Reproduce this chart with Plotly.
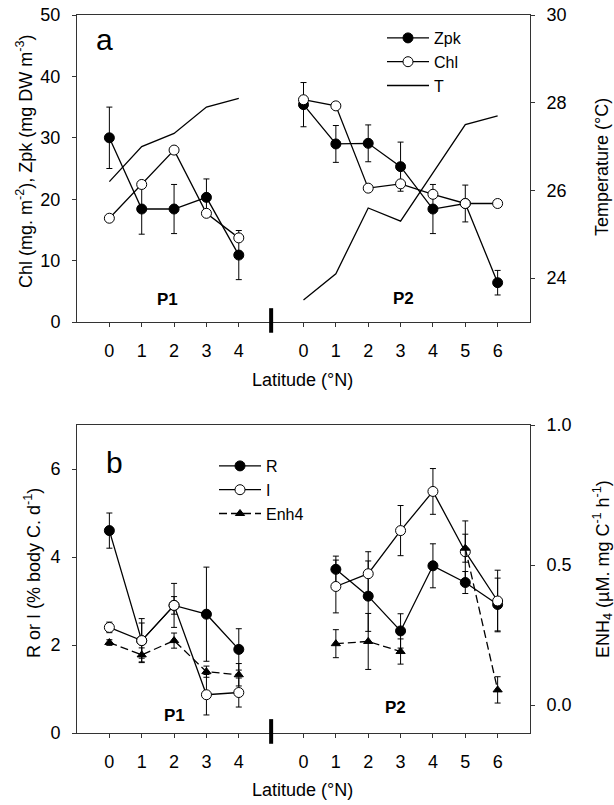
import plotly.graph_objects as go

# ---------------- data ----------------
lat_p1 = [0, 1, 2, 3, 4]
lat_p2 = [0, 1, 2, 3, 4, 5, 6]
tick_labels = ["0", "1", "2", "3", "4", "0", "1", "2", "3", "4", "5", "6"]

# panel a
zpk_p1 = [30.0, 18.4, 18.4, 20.3, 10.9]
zpk_p1_err = [5.0, 4.1, 4.0, 3.0, 4.0]
chl_p1 = [16.9, 22.4, 28.0, 17.7, 13.7]
temp_p1 = [26.2, 27.0, 27.3, 27.9, 28.1]

zpk_p2 = [35.4, 29.0, 29.1, 25.3, 18.4, 19.3, 6.4]
zpk_p2_err = [3.6, 3.0, 3.0, 4.0, 4.0, 3.0, 2.0]
chl_p2 = [36.2, 35.2, 21.8, 22.5, 20.8, 19.3, 19.3]
temp_p2 = [23.5, 24.1, 25.6, 25.3, 26.4, 27.5, 27.7]

# panel b
r_p1 = [4.6, 2.1, 2.9, 2.7, 1.9]
r_p1_err = [0.4, 0.5, 0.5, 1.07, 0.47]
i_p1 = [2.4, 2.1, 2.9, 0.87, 0.92]
i_p1_err = [0.12, 0.4, 0.2, 0.46, 0.33]
enh_p1 = [0.223, 0.179, 0.230, 0.119, 0.108]
enh_p1_err = [0.01, 0.025, 0.027, 0.02, 0.04]

r_p2 = [None, 3.72, 3.11, 2.32, 3.80, 3.42, 2.92]
r_p2_err = [None, 0.3, 0.8, 0.39, 0.5, 0.25, 0.6]
i_p2 = [None, 3.33, 3.62, 4.60, 5.49, 4.12, 3.0]
i_p2_err = [None, 0.6, 0.5, 0.57, 0.52, 0.7, 0.7]
enh_p2 = [None, 0.219, 0.227, 0.191, None, 0.56, 0.054]
enh_p2_err = [None, 0.05, 0.1, 0.045, None, 0.05, 0.047]

# ---------------- helpers ----------------
P2_OFFSET = 6
GAP = 5
xpos = lat_p1 + [GAP] + [v + P2_OFFSET for v in lat_p2]
tickvals = lat_p1 + [v + P2_OFFSET for v in lat_p2]


def join(a, b):
    return list(a) + [None] + list(b)


FONT = "Liberation Sans, Arial, sans-serif"
BLACK = "black"

fig = go.Figure()


def err(arr):
    return dict(type="data", array=arr, color=BLACK, thickness=1, width=3, visible=True)


# ---- panel a ----
fig.add_trace(go.Scatter(
    x=xpos, y=join(zpk_p1, zpk_p2), name="Zpk", mode="lines+markers",
    line=dict(color=BLACK, width=1.3),
    marker=dict(symbol="circle", size=10, color=BLACK, line=dict(color=BLACK, width=1)),
    error_y=err(join(zpk_p1_err, zpk_p2_err)), xaxis="x", yaxis="y", legend="legend"))
fig.add_trace(go.Scatter(
    x=xpos, y=join(chl_p1, chl_p2), name="Chl", mode="lines+markers",
    line=dict(color=BLACK, width=1.3),
    marker=dict(symbol="circle", size=10, color="white", line=dict(color=BLACK, width=1)),
    xaxis="x", yaxis="y", legend="legend"))
fig.add_trace(go.Scatter(
    x=xpos, y=join(temp_p1, temp_p2), name="T", mode="lines",
    line=dict(color=BLACK, width=1.3), xaxis="x", yaxis="y2", legend="legend"))

# ---- panel b ----
fig.add_trace(go.Scatter(
    x=xpos, y=join(r_p1, r_p2), name="R", mode="lines+markers",
    line=dict(color=BLACK, width=1.3),
    marker=dict(symbol="circle", size=10, color=BLACK, line=dict(color=BLACK, width=1)),
    error_y=err(join(r_p1_err, r_p2_err)), xaxis="x2", yaxis="y3", legend="legend2"))
fig.add_trace(go.Scatter(
    x=xpos, y=join(i_p1, i_p2), name="I", mode="lines+markers",
    line=dict(color=BLACK, width=1.3),
    marker=dict(symbol="circle", size=10, color="white", line=dict(color=BLACK, width=1)),
    error_y=err(join(i_p1_err, i_p2_err)), xaxis="x2", yaxis="y3", legend="legend2"))
fig.add_trace(go.Scatter(
    x=xpos, y=join(enh_p1, enh_p2), name="Enh4", mode="lines+markers",
    line=dict(color=BLACK, width=1.3, dash="8px,4px"),
    marker=dict(symbol="triangle-up", size=8, color=BLACK, line=dict(color=BLACK, width=1)),
    error_y=err(join(enh_p1_err, enh_p2_err)), xaxis="x2", yaxis="y4", legend="legend2"))

# ---------------- layout ----------------
W, H = 614, 805
xdom = [77 / W, 530 / W]
ydom_a = [1 - 322 / H, 1 - 15 / H]
ydom_b = [1 - 733 / H, 1 - 425 / H]

axis_common = dict(showline=True, linecolor="#333", linewidth=1, ticks="outside",
                   ticklen=4, tickcolor="#333", showgrid=False, zeroline=False,
                   automargin=False,
                   tickfont=dict(family=FONT, size=18, color=BLACK))

xcommon = dict(axis_common, range=[-1, 13], tickmode="array", tickvals=tickvals,
               ticktext=tick_labels, mirror=True, domain=xdom, ticklabelstandoff=8)

fig.update_layout(
    width=W, height=H, margin=dict(l=0, r=0, t=0, b=0, pad=0, autoexpand=False),
    paper_bgcolor="white", plot_bgcolor="white",
    font=dict(family=FONT, size=18, color=BLACK),
    xaxis=dict(xcommon, anchor="y"),
    yaxis=dict(axis_common, domain=ydom_a, range=[0, 50], tickvals=[0, 10, 20, 30, 40, 50],
               anchor="x", mirror=False, ticklabelstandoff=8),
    yaxis2=dict(axis_common, domain=ydom_a, range=[23, 30], tickvals=[24, 26, 28, 30],
                overlaying="y", side="right", anchor="x", ticklabelstandoff=8),
    xaxis2=dict(xcommon, anchor="y3"),
    yaxis3=dict(axis_common, domain=ydom_b, range=[0, 7], tickvals=[0, 2, 4, 6],
                anchor="x2", mirror=False, ticklabelstandoff=8),
    yaxis4=dict(axis_common, domain=ydom_b, range=[-0.1, 1.0], tickvals=[0.0, 0.5, 1.0],
                tickformat=".1f", overlaying="y3", side="right", anchor="x2",
                ticklabelstandoff=8),
    legend=dict(x=382 / W, y=1 - 21 / H, xanchor="left", yanchor="top",
                bgcolor="rgba(0,0,0,0)", font=dict(family=FONT, size=16, color=BLACK),
                tracegroupgap=0, itemwidth=42),
    legend2=dict(x=214 / W, y=1 - 449 / H, xanchor="left", yanchor="top",
                 bgcolor="rgba(0,0,0,0)", font=dict(family=FONT, size=16, color=BLACK),
                 tracegroupgap=0, itemwidth=42),
    showlegend=True,
)

# separator bars across the x axes
for xr, yr in (("x", "y domain"), ("x2", "y3 domain")):
    fig.add_shape(type="line", xref=xr, yref=yr, x0=GAP, x1=GAP, y0=-0.035, y1=0.045,
                  line=dict(color=BLACK, width=4))

ann = []
tfont = dict(family=FONT, size=18, color=BLACK)
rot = dict(xref="paper", yref="paper", textangle=-90, showarrow=False, font=tfont,
           xanchor="center", yanchor="middle")
ann.append(dict(rot, text="Chl (mg. m<sup>-2</sup>), Zpk (mg DW m<sup>-3</sup>)", x=25 / W, y=1 - 162 / H))
ann.append(dict(rot, text="Temperature (°C)", x=602 / W, y=1 - 167 / H))
ann.append(dict(rot, text="R or I (% body C. d<sup>-1</sup>)", x=32 / W, y=1 - 573 / H))
ann.append(dict(rot, text="ENH<sub>4</sub> (µM. mg C<sup>-1</sup> h<sup>-1</sup>)", x=602 / W, y=1 - 569 / H))
hor = dict(xref="paper", yref="paper", showarrow=False, font=tfont, xanchor="center", yanchor="middle")
ann.append(dict(hor, text="Latitude (°N)", x=302 / W, y=1 - 380 / H))
ann.append(dict(hor, text="Latitude (°N)", x=302 / W, y=1 - 790 / H))
# panel letters and region labels
big = dict(family=FONT, size=30, color=BLACK)
bold = dict(family=FONT, size=17, color=BLACK)
ann.append(dict(text="a", x=-0.15, y=46, xref="x", yref="y", showarrow=False, font=big))
ann.append(dict(text="b", x=0.15, y=6.15, xref="x2", yref="y3", showarrow=False, font=big))
ann.append(dict(text="<b>P1</b>", x=1.8, y=3.6, xref="x", yref="y", showarrow=False, font=bold))
ann.append(dict(text="<b>P2</b>", x=9.1, y=3.9, xref="x", yref="y", showarrow=False, font=bold))
ann.append(dict(text="<b>P1</b>", x=2.0, y=0.4, xref="x2", yref="y3", showarrow=False, font=bold))
ann.append(dict(text="<b>P2</b>", x=8.85, y=0.58, xref="x2", yref="y3", showarrow=False, font=bold))
fig.update_layout(annotations=ann)

fig.write_html(
    "out.html",
    config={"displayModeBar": False},
    post_script=(
        "document.documentElement.style.margin='0';"
        "document.documentElement.style.padding='0';"
        "document.documentElement.style.overflow='hidden';"
        "document.body.style.margin='0';document.body.style.padding='0';"
        "document.body.style.overflow='hidden';"
    ),
)
